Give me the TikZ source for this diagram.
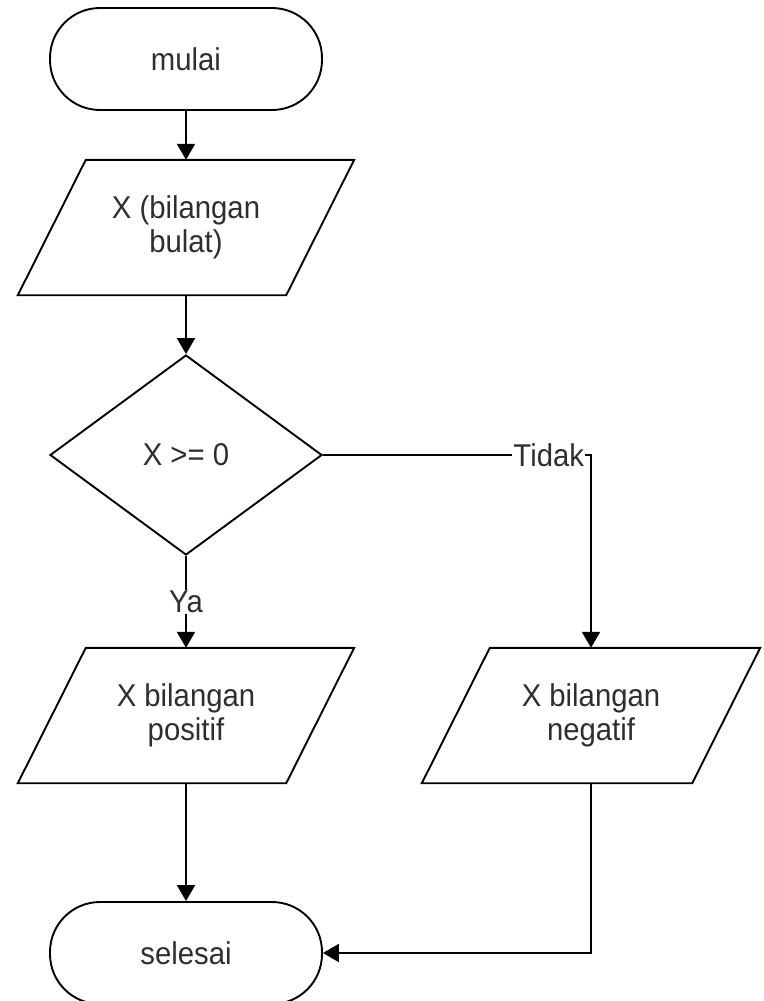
\documentclass[tikz,border=0pt]{standalone}
\usepackage{fontspec}
\setmainfont{Liberation Sans}[FakeStretch=0.93]
\usetikzlibrary{arrows.meta,shapes.geometric}
\begin{document}
\begin{tikzpicture}[x=1pt,y=-1pt,
  every node/.style={font=\fontsize{31.5}{34}\selectfont, text=black!82},
  shapeline/.style={draw=black, line width=1.9pt},
  term/.style={shapeline, rectangle, rounded corners=50pt, minimum width=272pt, minimum height=102pt, inner sep=0pt},
  iobox/.style={minimum width=336pt, minimum height=135pt, inner sep=0pt, align=center},
  decision/.style={shapeline, diamond, minimum width=272pt, minimum height=200pt, inner sep=0pt},
  flow/.style={line width=2pt, -{Triangle[length=16pt,width=18pt]}},
  lbl/.style={fill=white, inner sep=1pt},
]
\useasboundingbox (0,0) rectangle (763,1001);

% blocks
\node[term] (start) at (186,59) {mulai};
\node[iobox] (in) at (186,227.5) {X (bilangan\\bulat)};
\node[decision] (dec) at (186,455) {X >= 0};
\node[iobox] (pos) at (186,715.5) {X bilangan\\positif};
\node[iobox, minimum width=338pt] (neg) at (591,715.5) {X bilangan\\negatif};
\node[term] (end) at (186,953) {selesai};

% parallelogram outlines for the input/output blocks
\foreach \n in {in,pos,neg}
  \draw[shapeline] ([xshift=68pt]\n.north west) -- (\n.north east)
    -- ([xshift=-68pt]\n.south east) -- (\n.south west) -- cycle;

% connectors
\draw[flow] (start.south) -- (in.north);
\draw[flow] (in.south) -- (dec.north);
\draw[flow] (dec.south) -- node[lbl] {Ya} (pos.north);
\draw[flow] (dec.east) -| node[lbl, pos=0.5, anchor=east, xshift=-5pt] {Tidak} (neg.north);
\draw[flow] (pos.south) -- (end.north);
\draw[flow] (neg.south) |- (end.east);
\end{tikzpicture}
\end{document}
